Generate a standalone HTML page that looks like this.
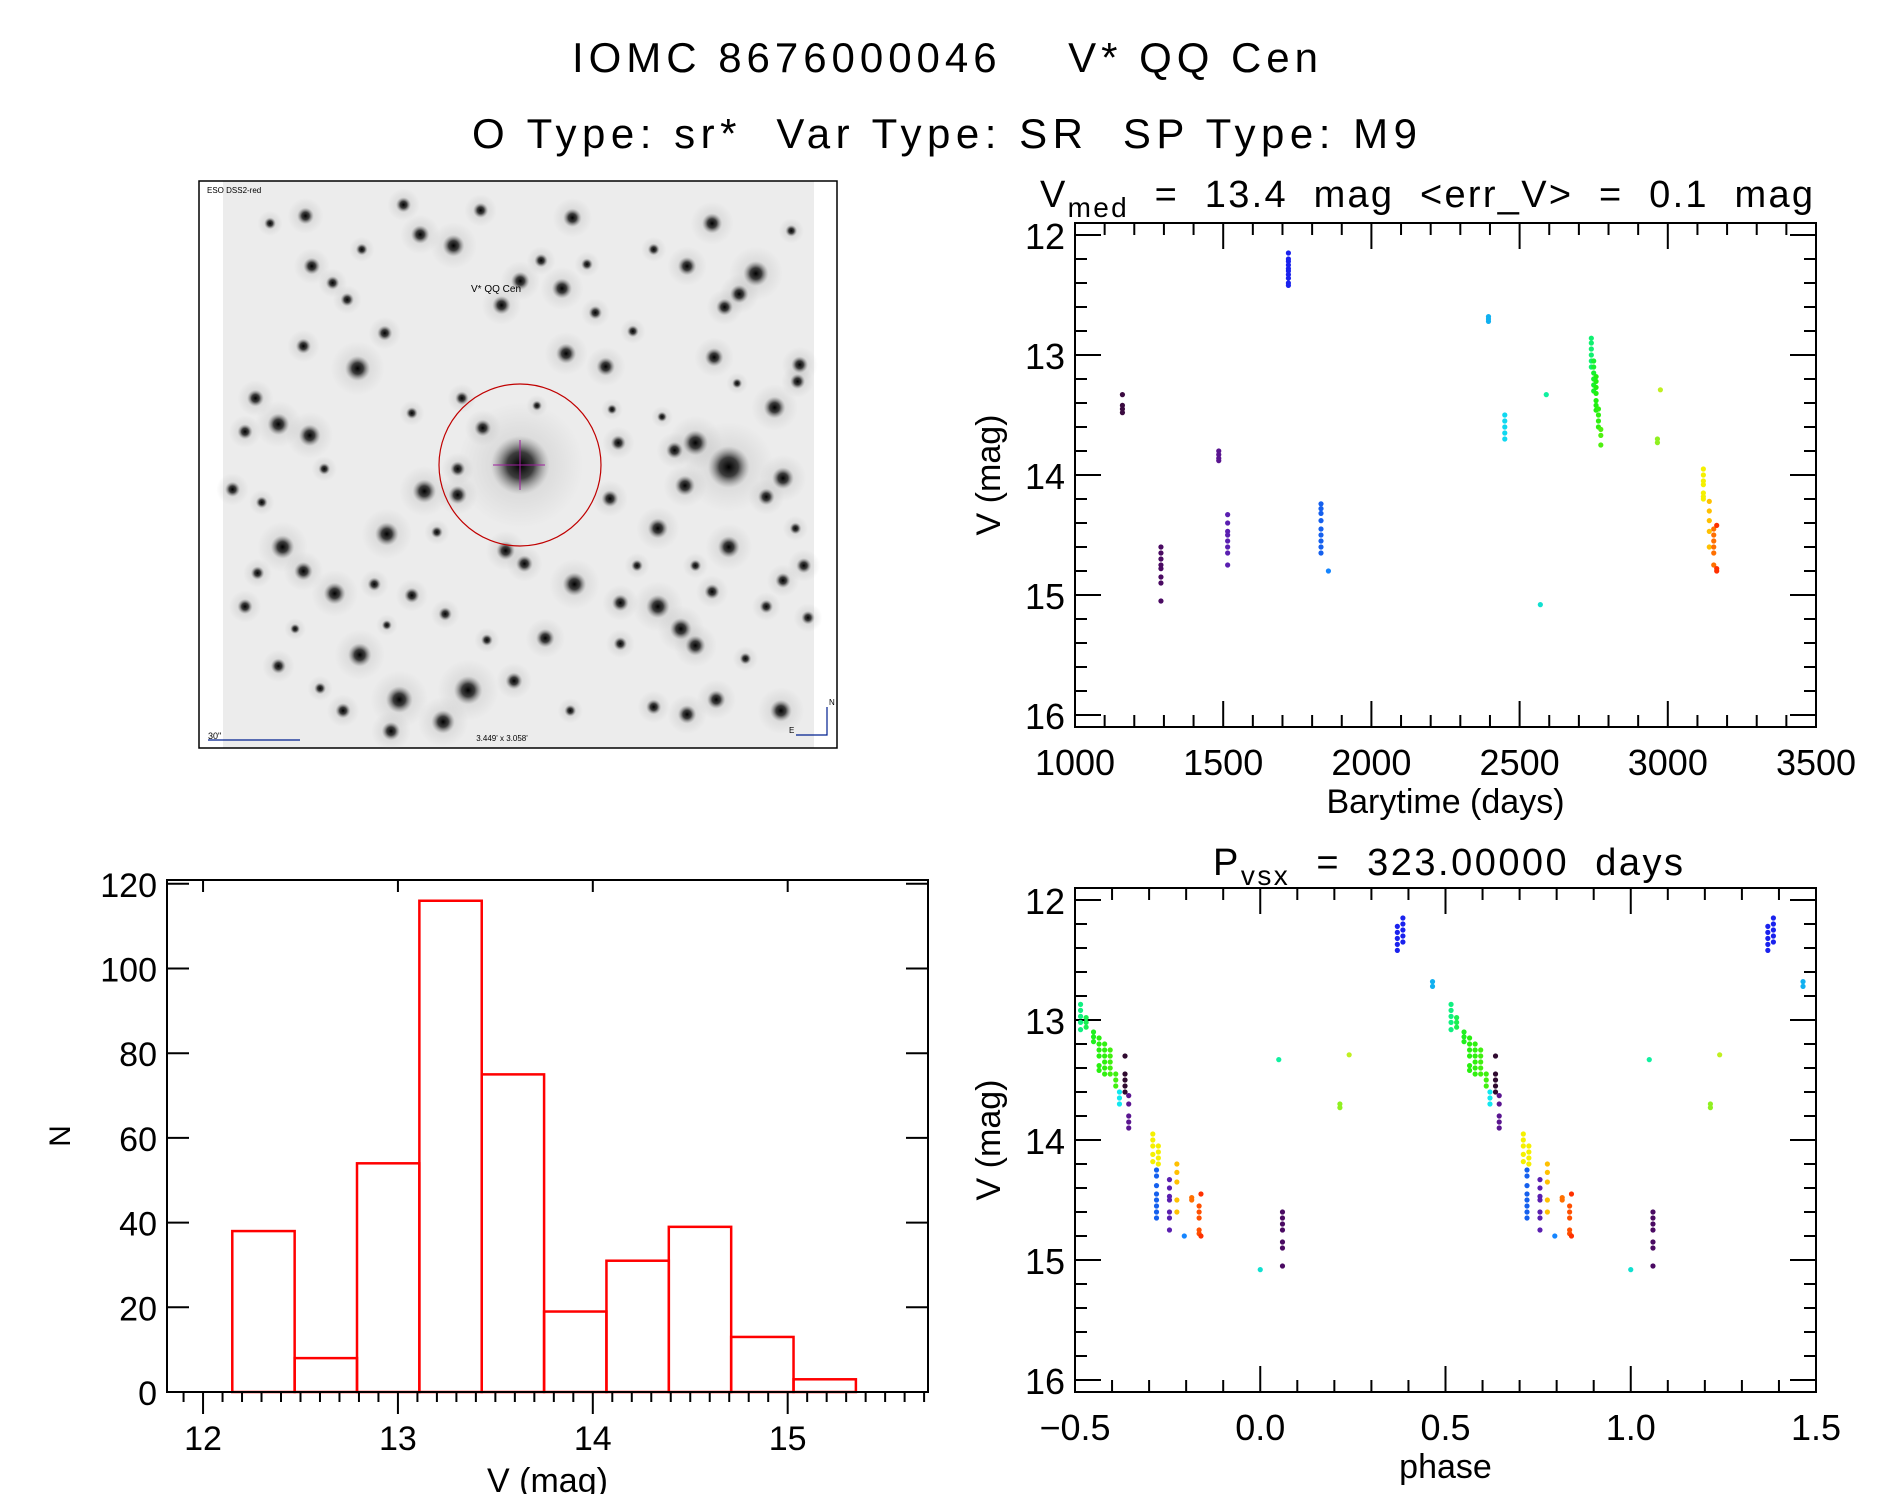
<!DOCTYPE html>
<html><head><meta charset="utf-8"><style>
body{margin:0;background:#fff;width:1889px;height:1494px;overflow:hidden;font-family:"Liberation Sans",sans-serif}
svg text{font-family:"Liberation Sans",sans-serif;fill:#000}
</style></head><body>
<svg id="fig" width="1889" height="1494" viewBox="0 0 1889 1494" xmlns="http://www.w3.org/2000/svg">
<text x="572" y="72" font-size="42" textLength="746" lengthAdjust="spacing" xml:space="preserve">IOMC 8676000046    V* QQ Cen</text>
<text x="472" y="148" font-size="42" textLength="945" lengthAdjust="spacing" xml:space="preserve">O Type: sr*  Var Type: SR  SP Type: M9</text>
<g id="img"></g>
<g id="lc"></g>
<g id="ph"></g>
<g id="hist"></g>
</svg>
<script>
const NS="http://www.w3.org/2000/svg";
function mk(p,t,a){const e=document.createElementNS(NS,t);for(const k in a)e.setAttribute(k,a[k]);p.appendChild(e);return e;}

// ---------- light curve data ----------
const lcTimes=[1160,1290,1485,1515,1720,1830,1855,2395,2450,2570,2590,2742,2750,2758,2766,2774,2965,2975,3120,3140,3155,3165];
const lcMags=[
[13.33,13.42,13.45,13.48],
[14.6,14.65,14.7,14.75,14.78,14.85,14.9,15.05],
[13.8,13.83,13.86,13.88],
[14.33,14.4,14.47,14.5,14.55,14.6,14.65,14.75],
[12.15,12.2,12.22,12.25,12.28,12.3,12.33,12.36,12.4,12.42],
[14.24,14.28,14.32,14.38,14.45,14.5,14.55,14.6,14.65],
[14.8],
[12.68,12.7,12.72],
[13.5,13.55,13.6,13.65,13.7],
[15.08],
[13.33],
[12.86,12.9,12.95,13.0,13.05,13.1],
[13.05,13.1,13.15,13.2,13.25,13.3],
[13.18,13.22,13.27,13.32,13.38,13.42,13.46],
[13.45,13.5,13.55,13.6],
[13.62,13.67,13.75],
[13.7,13.73],
[13.29],
[13.95,14.0,14.05,14.08,14.15,14.18,14.2],
[14.22,14.3,14.38,14.47,14.6],
[14.45,14.5,14.55,14.6,14.65,14.75],
[14.42,14.78,14.8]];
const lcColors=["#3a0a40","#4a0a62","#5a1590","#5a1fb0","#1a22ee","#1560ee","#1585ff","#10b0f0","#10d8f0","#10e0d0","#10f0a0","#10f070","#18f030","#20f010","#30f010","#50f010","#90f020","#c0f020","#f5f000","#ffc000","#ff7000","#ff3000"];

// ---------- phase data ----------
const phPhases=[-0.485,-0.47,-0.45,-0.435,-0.42,-0.405,-0.39,-0.38,-0.365,-0.355,-0.29,-0.275,-0.28,-0.245,-0.225,-0.205,-0.185,-0.165,-0.16,0.0,0.05,0.06,0.215,0.24,0.37,0.385,0.465];
const phMags=[
[12.87,12.92,12.97,13.02,13.08],
[12.98,13.02,13.06],
[13.1,13.14,13.18],
[13.15,13.2,13.25,13.3,13.38,13.42],
[13.2,13.25,13.3,13.35,13.4,13.45],
[13.25,13.3,13.35,13.4,13.45],
[13.45,13.5,13.55],
[13.6,13.65,13.7],
[13.3,13.45,13.5,13.55,13.6],
[13.63,13.7,13.8,13.85,13.9],
[13.95,14.0,14.05,14.12,14.18],
[14.05,14.1,14.15,14.2],
[14.25,14.3,14.38,14.45,14.5,14.55,14.6,14.65],
[14.33,14.4,14.47,14.5,14.6,14.65,14.75],
[14.2,14.27,14.35,14.5,14.6],
[14.8],
[14.48,14.5],
[14.55,14.6,14.65,14.75,14.78],
[14.45,14.8],
[15.08],
[13.33],
[14.6,14.65,14.7,14.75,14.85,14.9,15.05],
[13.7,13.73],
[13.29],
[12.22,12.27,12.32,12.37,12.42],
[12.15,12.2,12.25,12.3,12.35],
[12.68,12.72]];
const phColors=["#10f080","#18f050","#20f020","#28f010","#30f010","#40f010","#40f010","#10e8f0","#300a30","#5a1590","#f5f000","#f5f000","#1560ee","#5a1fb0","#ffc000","#1585ff","#ff7000","#ff5000","#ff3000","#10e0d0","#10f0a0","#4a0a62","#90f020","#c0f020","#1a22ee","#1a22ee","#10b0f0"];

// ---------- histogram data ----------
const binEdges=[12.15,12.47,12.79,13.11,13.43,13.75,14.07,14.39,14.71,15.03,15.35];
const binCounts=[38,8,54,116,75,19,31,39,13,3];
const histXTicks=[12,13,14,15];
const histYTicks=[0,20,40,60,80,100,120];
const magTicks=[12,13,14,15,16];
const timeTicks=[1000,1500,2000,2500,3000,3500];
const phaseTicks=["-0.5","0.0","0.5","1.0","1.5"];

function axesBox(g,x0,x1,y0,y1){
  const r=mk(g,"rect",{x:x0,y:y0,width:x1-x0,height:y1-y0,fill:"none",stroke:"#000","stroke-width":2});
  
  
}
function tick(g,x1,y1,x2,y2){mk(g,"line",{x1:x1,y1:y1,x2:x2,y2:y2,stroke:"#000","stroke-width":2});}
function label(g,x,y,s,size,anchor,name){
  const t=mk(g,"text",{x:x,y:y,"font-size":size,"text-anchor":anchor||"middle"});
  t.textContent=s;
  
  
  return t;
}
function dot(g,x,y,c){
  const d=mk(g,"circle",{cx:x,cy:y,r:2.6,fill:c});
  
  
}

// ---------- magnitude plots ----------
function magPlot(g,Y0,Y1,xmin,xmax,xTicksVals,xTickLabels,minorX,xtitle){
  const X0=1075,X1=1816;
  const sx=v=>X0+(v-xmin)/(xmax-xmin)*(X1-X0);
  const sy=v=>Y0+(v-11.9)/(16.1-11.9)*(Y1-Y0);
  axesBox(g,X0,X1,Y0,Y1);
  for(let m=12;m<=16.001;m+=0.2){const y=sy(m);const maj=Math.abs(m-Math.round(m))<1e-6;const L=maj?26:12;tick(g,X0,y,X0+L,y);tick(g,X1,y,X1-L,y);}
  magTicks.forEach(m=>label(g,X0-10,sy(m)+14,String(m),36,"end","y-tick-label"));
  for(let v=xmin;v<=xmax+1e-6;v+=minorX){const x=sx(v);const maj=xTicksVals.some(t=>Math.abs(t-v)<1e-6);const L=maj?26:12;tick(g,x,Y1,x,Y1-L);tick(g,x,Y0,x,Y0+L);}
  xTicksVals.forEach((v,i)=>label(g,sx(v),Y1+48,xTickLabels[i],36,"middle","x-tick-label"));
  label(g,(X0+X1)/2,Y1+86,xtitle,34,"middle","x-axis-title");
  const yt=label(g,0,0,"V (mag)",34,"middle","y-axis-title");
  yt.setAttribute("transform",`translate(1000,${(Y0+Y1)/2}) rotate(-90)`);
  return {sx,sy};
}
const lc=document.getElementById("lc");
const A=magPlot(lc,223,727,1000,3500,timeTicks,timeTicks.map(String),100,"Barytime (days)");
lcTimes.forEach((t,i)=>lcMags[i].forEach(m=>dot(lc,A.sx(t),A.sy(m),lcColors[i])));
const t1=label(lc,1040,207,"",38,"start","light-curve-title");
t1.innerHTML='V<tspan font-size="28" dy="10">med</tspan><tspan dy="-10" xml:space="preserve">  =  13.4  mag  &lt;err_V&gt;  =  0.1  mag</tspan>';
t1.setAttribute("textLength","773");t1.setAttribute("lengthAdjust","spacing");

const ph=document.getElementById("ph");
const B=magPlot(ph,888,1392,-0.5,1.5,phaseTicks.map(Number),phaseTicks.map(s=>s.replace("-","\u2212")),0.1,"phase");
phPhases.forEach((p,i)=>phMags[i].forEach(m=>{dot(ph,B.sx(p),B.sy(m),phColors[i]);dot(ph,B.sx(p+1),B.sy(m),phColors[i]);}));
const t2=label(ph,1213,875,"",38,"start","phase-plot-title");
t2.innerHTML='P<tspan font-size="28" dy="10">vsx</tspan><tspan dy="-10" xml:space="preserve">  =  323.00000  days</tspan>';
t2.setAttribute("textLength","470");t2.setAttribute("lengthAdjust","spacing");

// ---------- histogram ----------
(function(){
  const g=document.getElementById("hist");
  const X0=167,X1=928,Y0=880,Y1=1392,xmin=11.815,xmax=15.72,ymax=120.9;
  const sx=v=>X0+(v-xmin)/(xmax-xmin)*(X1-X0);
  const sy=v=>Y1-v/ymax*(Y1-Y0);
  for(let i=0;i<binCounts.length;i++){
    const r=mk(g,"rect",{x:sx(binEdges[i]),y:sy(binCounts[i]),width:sx(binEdges[i+1])-sx(binEdges[i]),height:Y1-sy(binCounts[i]),fill:"none",stroke:"#f00","stroke-width":2.5});
    
    
  }
  axesBox(g,X0,X1,Y0,Y1);
  histYTicks.forEach(v=>{const y=sy(v);tick(g,X0,y,X0+22,y);tick(g,X1,y,X1-22,y);label(g,X0-10,y+13,String(v),34,"end","y-tick-label");});
  for(let v=11.9;v<=15.71;v+=0.1){const x=sx(v);const maj=histXTicks.some(t=>Math.abs(t-v)<1e-6);tick(g,x,Y1,x,Y1+(maj?22:10));}
  histXTicks.forEach(v=>{const x=sx(v);tick(g,x,Y0,x,Y0+12);label(g,x,Y1+58,String(v),34,"middle","x-tick-label");});
  label(g,(X0+X1)/2,Y1+100,"V (mag)",34,"middle","x-axis-title");
  const yt=label(g,0,0,"N",30,"middle","y-axis-title");
  yt.setAttribute("transform",`translate(70,${(Y0+Y1)/2}) rotate(-90)`);
})();

// ---------- sky image ----------
(function(){
  const g=document.getElementById("img");
  const defs=mk(g,"defs",{});
  const rg=mk(defs,"radialGradient",{id:"star"});
  mk(rg,"stop",{offset:"0",    "stop-color":"#000","stop-opacity":"1"});
  mk(rg,"stop",{offset:"0.45","stop-color":"#222","stop-opacity":"0.85"});
  mk(rg,"stop",{offset:"1",   "stop-color":"#888","stop-opacity":"0"});
  const rg2=mk(defs,"radialGradient",{id:"haze"});
  mk(rg2,"stop",{offset:"0","stop-color":"#999","stop-opacity":"0.35"});
  mk(rg2,"stop",{offset:"1","stop-color":"#999","stop-opacity":"0"});
  mk(g,"rect",{x:223,y:181,width:591,height:567,fill:"#ececec"});
  const fr=mk(g,"rect",{x:199,y:181,width:638,height:567,fill:"none",stroke:"#000","stroke-width":1.5});
  
  
  const stars=[[780,780,70],[1280,785,50],[1200,720,30],[390,520,30],[1345,265,30],[1240,130,24],[905,115,22],[620,190,26],[540,160,22],[880,305,24],[735,350,22],[780,285,22],[890,480,24],[985,515,22],[1245,490,22],[1390,625,26],[1410,815,26],[1175,835,24],[200,670,26],[275,700,26],[550,850,28],[630,860,22],[460,965,28],[210,1000,28],[260,1065,22],[335,1125,26],[910,1100,28],[1110,1160,28],[1165,1220,26],[1200,1265,24],[395,1290,28],[490,1410,32],[655,1385,34],[595,1470,28],[1405,1440,26],[1280,1000,26],[1110,950,24],[745,1010,22],[790,1045,20],[1020,1150,20],[1250,1410,22],[1180,1450,22],[265,110,20],[280,245,20],[145,600,20],[120,690,18],[260,460,18],[455,425,18],[500,80,18],[685,95,18],[1450,510,20],[1445,555,18],[1370,865,20],[840,1245,22],[470,1495,22],[765,1360,20],[1180,245,22],[1305,320,22],[1270,355,20],[690,680,20],[630,790,18],[1015,720,18],[995,870,20],[1150,740,20],[120,1160,18],[200,1320,18],[1100,1430,18],[1020,1260,16],[1460,1050,18],[1240,1120,18],[1410,1090,18],[355,1440,18],[1370,1160,16],[600,1180,16],[430,1100,16],[520,1130,18],[90,845,18],[150,1070,16],[1470,1190,16],[330,290,16],[365,335,16],[640,600,16],[960,370,16],[940,240,14],[830,230,16],[180,130,14],[400,200,14],[1100,200,14],[1430,150,14],[1050,420,14],[520,640,14],[310,790,14],[160,880,14],[700,1250,14],[1060,1050,14],[1320,1300,14],[900,1440,14],[300,1380,14],[580,960,14],[1200,1050,14],[1440,950,14],[820,620,12],[1000,630,12],[460,1210,12],[240,1220,12],[1300,560,12],[1120,650,12]];
  stars.forEach(s=>{mk(g,"circle",{cx:195+s[0]*0.417,cy:175+s[1]*0.372,r:s[2]*0.9,fill:"url(#haze)"});});
  stars.forEach(s=>{mk(g,"circle",{cx:195+s[0]*0.417,cy:175+s[1]*0.372,r:s[2]*0.42,fill:"url(#star)"});});
  mk(g,"line",{x1:493,y1:465,x2:545,y2:465,stroke:"#a020a0","stroke-width":1});
  mk(g,"line",{x1:520,y1:440,x2:520,y2:490,stroke:"#a020a0","stroke-width":1});
  const c=mk(g,"ellipse",{cx:520,cy:465,rx:81,ry:81,fill:"none",stroke:"#c00000","stroke-width":1.2});
  
  
  label(g,496,292,"V* QQ Cen",10,"middle","target-label").setAttribute("fill","#e00000");
  label(g,207,193,"ESO DSS2-red",8,"start","survey-label").setAttribute("fill","#002090");
  label(g,502,741,"3.449' x 3.058'",8,"middle","fov-label").setAttribute("fill","#002090");
  label(g,208,739,"30\"",9,"start","scale-label").setAttribute("fill","#002090");
  mk(g,"line",{x1:208,y1:740,x2:300,y2:740,stroke:"#002090","stroke-width":1.2});
  mk(g,"polyline",{points:"796,735 827,735 827,707",fill:"none",stroke:"#002090","stroke-width":1.2});
  label(g,829,705,"N",8,"start","north-label").setAttribute("fill","#002090");
  label(g,789,733,"E",8,"start","east-label").setAttribute("fill","#002090");
})();
</script>
</body></html>
